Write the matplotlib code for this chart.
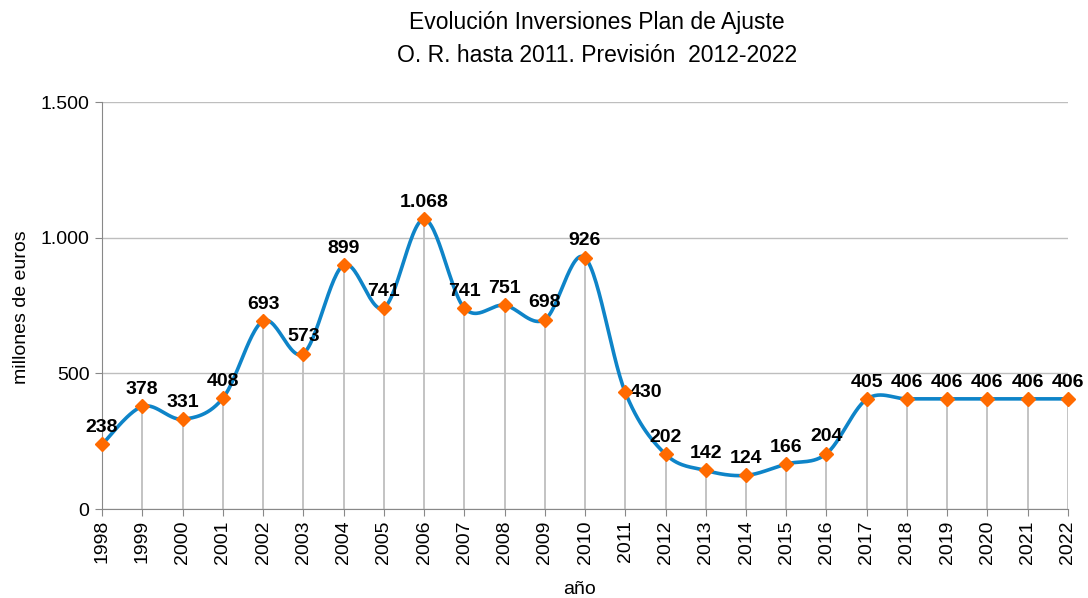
import numpy as np
import matplotlib
matplotlib.use("Agg")
import matplotlib.pyplot as plt
from matplotlib.ticker import FuncFormatter

plt.rcParams['font.family'] = ['Liberation Sans', 'DejaVu Sans']

years = list(range(1998, 2023))
values = [238, 378, 331, 408, 693, 573, 899, 741, 1068, 741, 751, 698, 926,
          430, 202, 142, 124, 166, 204, 405, 406, 406, 406, 406, 406]
labels = ["238", "378", "331", "408", "693", "573", "899", "741", "1.068", "741",
          "751", "698", "926", "430", "202", "142", "124", "166", "204", "405",
          "406", "406", "406", "406", "406"]

title1 = "Evolución Inversiones Plan de Ajuste"
title2 = "O. R. hasta 2011. Previsión  2012-2022"
xlabel = "año"
ylabel = "millones de euros"


def smooth(x, y, n=30):
    # Catmull-Rom style bezier smoothing (like spreadsheet smoothed lines)
    x = np.asarray(x, float)
    y = np.asarray(y, float)
    px = np.concatenate([[x[0]], x, [x[-1]]])
    py = np.concatenate([[y[0]], y, [y[-1]]])
    xs, ys = [], []
    for i in range(1, len(px) - 2):
        p0 = np.array([px[i - 1], py[i - 1]])
        p1 = np.array([px[i], py[i]])
        p2 = np.array([px[i + 1], py[i + 1]])
        p3 = np.array([px[i + 2], py[i + 2]])
        c1 = p1 + (p2 - p0) / 6.0
        c2 = p2 - (p3 - p1) / 6.0
        t = np.linspace(0, 1, n)[:, None]
        b = ((1 - t) ** 3) * p1 + 3 * ((1 - t) ** 2) * t * c1 + 3 * (1 - t) * t ** 2 * c2 + t ** 3 * p2
        xs.append(b[:, 0])
        ys.append(b[:, 1])
    return np.concatenate(xs), np.concatenate(ys)


fig = plt.figure(figsize=(10.88, 5.98), dpi=100)
ax = fig.add_axes([0.0938, 0.1488, 0.8878, 0.6806])

ax.set_xlim(1998, 2022)
ax.set_ylim(0, 1500)
ax.set_yticks([0, 500, 1000, 1500])
ax.yaxis.set_major_formatter(FuncFormatter(lambda v, p: f"{int(v):,}".replace(",", ".")))
ax.set_xticks(years)
ax.set_xticklabels([str(y) for y in years], rotation=90, fontsize=14)
ax.tick_params(axis='y', labelsize=14, length=5, color='#888888', pad=4)
ax.tick_params(axis='x', length=5, color='#888888', pad=3)
ax.grid(axis='y', color='#BEBEBE', linewidth=1)
ax.set_axisbelow(True)
for s in ['top', 'right']:
    ax.spines[s].set_visible(False)
for s in ['left', 'bottom']:
    ax.spines[s].set_color('#888888')

# drop lines
ax.vlines(years, 0, values, color='#BEBEBE', linewidth=1.3, zorder=1)

sx, sy = smooth(years, values)
ax.plot(sx, sy, color='#0E84C8', linewidth=2.6, zorder=3, clip_on=False)
ax.plot(years, values, linestyle='none', marker='D', markersize=7,
        color='#FF6A00', zorder=4, clip_on=False)

for x, v, lab in zip(years, values, labels):
    if x == 2011:
        ax.annotate(lab, (x, v), xytext=(3, 0), textcoords='offset points',
                    ha='left', va='center', fontsize=14, fontweight='bold')
    else:
        ax.annotate(lab, (x, v), xytext=(0, 6), textcoords='offset points',
                    ha='center', va='bottom', fontsize=14, fontweight='bold')

fig.text(597 / 1088, 1 - 22 / 598, title1, ha='center', va='center', fontsize=16.5)
fig.text(597 / 1088, 1 - 56 / 598, title2, ha='center', va='center', fontsize=16.5)
fig.text(580 / 1088, 1 - 589 / 598, xlabel, ha='center', va='center', fontsize=14)
fig.text(22 / 1088, 1 - 307 / 598, ylabel, ha='center', va='center', fontsize=14, rotation=90)

fig.savefig("out.png", dpi=100)
